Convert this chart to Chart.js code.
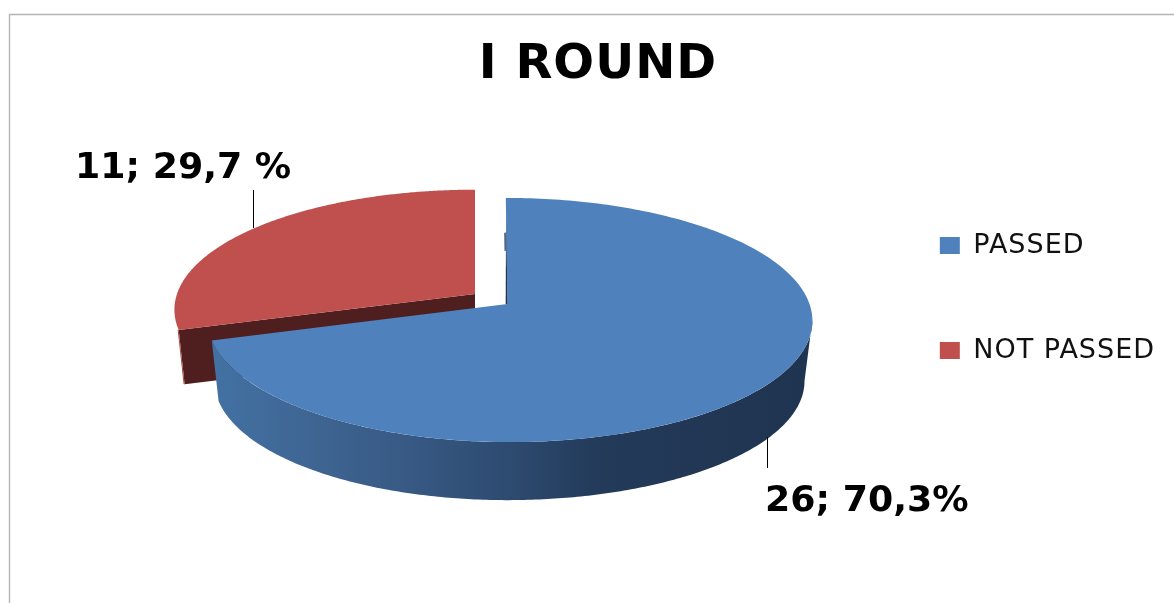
<!DOCTYPE html>
<html>
<head>
<meta charset="utf-8">
<style>
  html, body { margin: 0; padding: 0; background: #fff; }
  canvas { display: block; }
</style>
<script src="https://cdn.jsdelivr.net/npm/chart.js@4"></script>
</head>
<body>
<canvas id="chart" width="1174" height="603"></canvas>
<script>
const chartTitle = 'I ROUND';
const categories = ['PASSED', 'NOT PASSED'];
const counts = [26, 11];
const valueLabels = ['26; 70,3%', '11; 29,7 %'];
const sliceColors = ['#4f81bd', '#c0504d'];

// Tilted-disc geometry: each slice has its own apex because the red one is pulled out.
const perspective = 0.131;
const discs = [
  { x: 507.5, y: 304, a: 302, aLeft: 298, b: 120, shear: 0.016, depth: 61.5, shrink: 0.975 },
  { x: 475, y: 294, a: 298, aLeft: 298, b: 118, shear: 0, depth: 55, shrink: 0.98 }
];
const labelSpots = [
  { x: 765, y: 511, lead: [767, 437, 767, 468] },
  { x: 75, y: 178, lead: [253, 190, 253, 228] }
];

function project(d, angle, r, lower) {
  const s = lower ? d.shrink : 1;
  const u = r * Math.cos(angle), v = r * Math.sin(angle);
  const w = 1 - perspective * v;
  const Y = d.b * v / w;
  const X = (u < 0 ? d.aLeft : d.a) * u / w + (lower ? 0 : d.shear * Y);
  return { x: d.x + X * s, y: d.y + (lower ? d.depth : 0) + Y * s };
}

function tracePoints(ctx, pts, first) {
  pts.forEach((p, i) => (i === 0 && first ? ctx.moveTo(p.x, p.y) : ctx.lineTo(p.x, p.y)));
}

function rim(d, from, to, lower) {
  const out = [];
  const n = 240;
  for (let i = 0; i <= n; i++) {
    out.push(project(d, from + (to - from) * i / n, 1, lower));
  }
  return out;
}

function fillWall(ctx, d, from, to, fill) {
  ctx.beginPath();
  tracePoints(ctx, rim(d, from, to, false), true);
  tracePoints(ctx, rim(d, to, from, true), false);
  ctx.closePath();
  ctx.fillStyle = fill;
  ctx.fill();
}

function fillTop(ctx, d, from, to, fill) {
  const c = project(d, 0, 0, false);
  ctx.beginPath();
  ctx.moveTo(c.x, c.y);
  tracePoints(ctx, rim(d, from, to, false), false);
  ctx.closePath();
  ctx.fillStyle = fill;
  ctx.fill();
}

const frameAndText = {
  id: 'frameAndText',
  beforeDraw(chart) {
    const ctx = chart.ctx;
    ctx.save();
    ctx.strokeStyle = '#b4b4b4';
    ctx.lineWidth = 1.4;
    ctx.beginPath();
    ctx.moveTo(9.5, 603);
    ctx.lineTo(9.5, 14.5);
    ctx.lineTo(1174, 14.5);
    ctx.stroke();
    ctx.restore();
    ctx.letterSpacing = '1px';
  },
  beforeDatasetsDraw(chart) {
    const ctx = chart.ctx;
    ctx.letterSpacing = '0px';
    const [blue, red] = chart.getDatasetMeta(0).data;

    // Pulled-out slice: its cut face with a thin outer edge, then the top.
    const r0 = discs[1];
    const rimTop = project(r0, red.startAngle, 1, false);
    const rimLow = project(r0, red.startAngle, 1, true);
    const apexTop = project(r0, 0, 0, false);
    const apexLow = project(r0, 0, 0, true);
    ctx.beginPath();
    ctx.moveTo(apexTop.x, apexTop.y);
    ctx.lineTo(rimTop.x, rimTop.y);
    ctx.lineTo(rimLow.x, rimLow.y);
    ctx.lineTo(apexLow.x, apexLow.y);
    ctx.closePath();
    ctx.fillStyle = '#4f1f1f';
    ctx.fill();
    ctx.strokeStyle = '#a94644';
    ctx.lineWidth = 1;
    ctx.beginPath();
    ctx.moveTo(rimTop.x - 0.5, rimTop.y);
    ctx.lineTo(rimLow.x - 0.5, rimLow.y);
    ctx.stroke();
    fillTop(ctx, r0, red.startAngle, red.endAngle, sliceColors[1]);

    // Large slice: shaded outer wall under its top face.
    const b0 = discs[0];
    const shade = ctx.createLinearGradient(216, 0, 810, 0);
    shade.addColorStop(0, '#4271a2');
    shade.addColorStop(0.15, '#3f6694');
    shade.addColorStop(0.31, '#385a85');
    shade.addColorStop(0.48, '#2e4c72');
    shade.addColorStop(0.65, '#233a59');
    shade.addColorStop(1, '#1f3450');
    fillWall(ctx, b0, 0.13, blue.endAngle, shade);
    fillTop(ctx, b0, blue.startAngle, blue.endAngle, sliceColors[0]);

    // Sliver of the cut face along the upright edge, and the small mark beside it.
    const e0 = project(b0, 0, 0, false);
    const e1 = project(b0, blue.startAngle, 0.83, false);
    ctx.fillStyle = '#1f3450';
    ctx.beginPath();
    ctx.moveTo(e0.x, e0.y);
    ctx.lineTo(e1.x, e1.y);
    ctx.lineTo(e0.x - 1.8, e0.y);
    ctx.closePath();
    ctx.fill();
    const m0 = project(b0, blue.startAngle, 0.47, false);
    const m1 = project(b0, blue.startAngle, 0.645, false);
    ctx.strokeStyle = '#4d6a8e';
    ctx.lineWidth = 2;
    ctx.beginPath();
    ctx.moveTo(m0.x - 1.2, m0.y);
    ctx.lineTo(m1.x - 1.2, m1.y);
    ctx.stroke();
    return false;
  },
  afterDraw(chart) {
    const ctx = chart.ctx;
    ctx.save();
    ctx.strokeStyle = '#000';
    ctx.lineWidth = 1;
    labelSpots.forEach((s, i) => {
      const [x0, y0, x1, y1] = s.lead;
      ctx.beginPath();
      ctx.moveTo(x0 + 0.5, y0);
      ctx.lineTo(x1 + 0.5, y1);
      ctx.stroke();
      ctx.font = 'bold 36.3px "DejaVu Sans"';
      ctx.fillStyle = '#000';
      ctx.textAlign = 'left';
      ctx.textBaseline = 'alphabetic';
      ctx.fillText(valueLabels[i], s.x, s.y);
    });
    ctx.restore();
  }
};

new Chart(document.getElementById('chart'), {
  type: 'pie',
  data: {
    labels: categories,
    datasets: [{ data: counts, backgroundColor: sliceColors, borderWidth: 0 }]
  },
  options: {
    responsive: false,
    animation: false,
    events: [],
    layout: { padding: { left: 41, top: 37, right: 19, bottom: 44 } },
    plugins: {
      tooltip: { enabled: false },
      title: {
        display: true,
        text: chartTitle,
        color: '#000',
        font: { family: '"DejaVu Sans"', size: 48, weight: 'bold' },
        padding: 0
      },
      legend: {
        position: 'right',
        labels: {
          boxWidth: 20,
          boxHeight: 17,
          padding: 78,
          color: '#111',
          font: { family: '"DejaVu Sans"', size: 27 }
        }
      }
    }
  },
  plugins: [frameAndText]
});
</script>
</body>
</html>
